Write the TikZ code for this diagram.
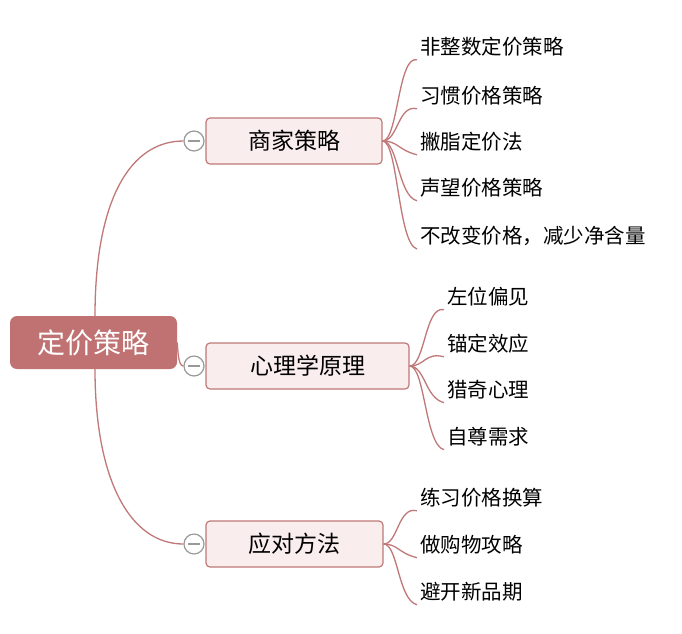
\documentclass[tikz,border=0pt]{standalone}
\usepackage{fontspec}
\setmainfont{Noto Sans CJK SC}
\begin{document}
\begin{tikzpicture}[x=1pt,y=-1pt,
  con/.style={draw=linec,line width=1.3pt},
  br/.style={draw=linec,fill=boxf,line width=1.2pt,rounded corners=4pt,minimum height=46pt,font=\fontsize{23}{23}\selectfont,inner sep=0pt},
  leaf/.style={anchor=west,font=\fontsize{20.5}{20.5}\selectfont,inner sep=0pt},
  col/.style={circle,draw=gray!80,fill=white,line width=1.2pt,minimum size=20pt,inner sep=0pt,path picture={\draw[gray!80,line width=1.2pt](path picture bounding box.west)++(4pt,0)--++(12pt,0);}}]
\definecolor{linec}{HTML}{C07878}
\definecolor{boxf}{HTML}{F9EDED}
\definecolor{rootf}{HTML}{C07272}
\useasboundingbox[fill=white] (0,0) rectangle (682,633);
\node[fill=rootf,rounded corners=7pt,minimum width=167pt,minimum height=53pt,text=white,font=\fontsize{28}{28}\selectfont,inner sep=0pt] (root) at (93.5,342.5) {定价策略};
\node[br,minimum width=176pt] (b1) at (294,141) {商家策略};
\node[br,minimum width=203pt] (b2) at (307.5,366) {心理学原理};
\node[br,minimum width=177pt] (b3) at (294.5,544) {应对方法};
\node[col] (c1) at (194,141) {};
\node[col] (c2) at (194,366) {};
\node[col] (c3) at (194,544) {};
\coordinate (r1) at (95,316);
\coordinate (r3) at (95,369);
\draw[con] (r1) .. controls (95,200) and (130,141) .. (c1.west);
\draw[con] (root.east) .. controls (178,350) and (178,366) .. (c2.west);
\draw[con] (r3) .. controls (95,480) and (130,544) .. (c3.west);
\foreach \t/\y [count=\i] in {非整数定价策略/47,习惯价格策略/96,撇脂定价法/142,声望价格策略/188,不改变价格，减少净含量/236}{
  \node[leaf] (l1\i) at (420,\y) {\t};
  \draw[con] (b1.east) .. controls (398,141) and (398,\y+8) .. ([xshift=-3pt,yshift=-3pt]l1\i.south west);}
\foreach \t/\y [count=\i] in {左位偏见/297,锚定效应/344,猎奇心理/390,自尊需求/437}{
  \node[leaf] (l2\i) at (447,\y) {\t};
  \draw[con] (b2.east) .. controls (425,366) and (425,\y+8) .. ([xshift=-3pt,yshift=-3pt]l2\i.south west);}
\foreach \t/\y [count=\i] in {练习价格换算/498,做购物攻略/545,避开新品期/592}{
  \node[leaf] (l3\i) at (420,\y) {\t};
  \draw[con] (b3.east) .. controls (398,544) and (398,\y+8) .. ([xshift=-3pt,yshift=-3pt]l3\i.south west);}
\end{tikzpicture}
\end{document}
